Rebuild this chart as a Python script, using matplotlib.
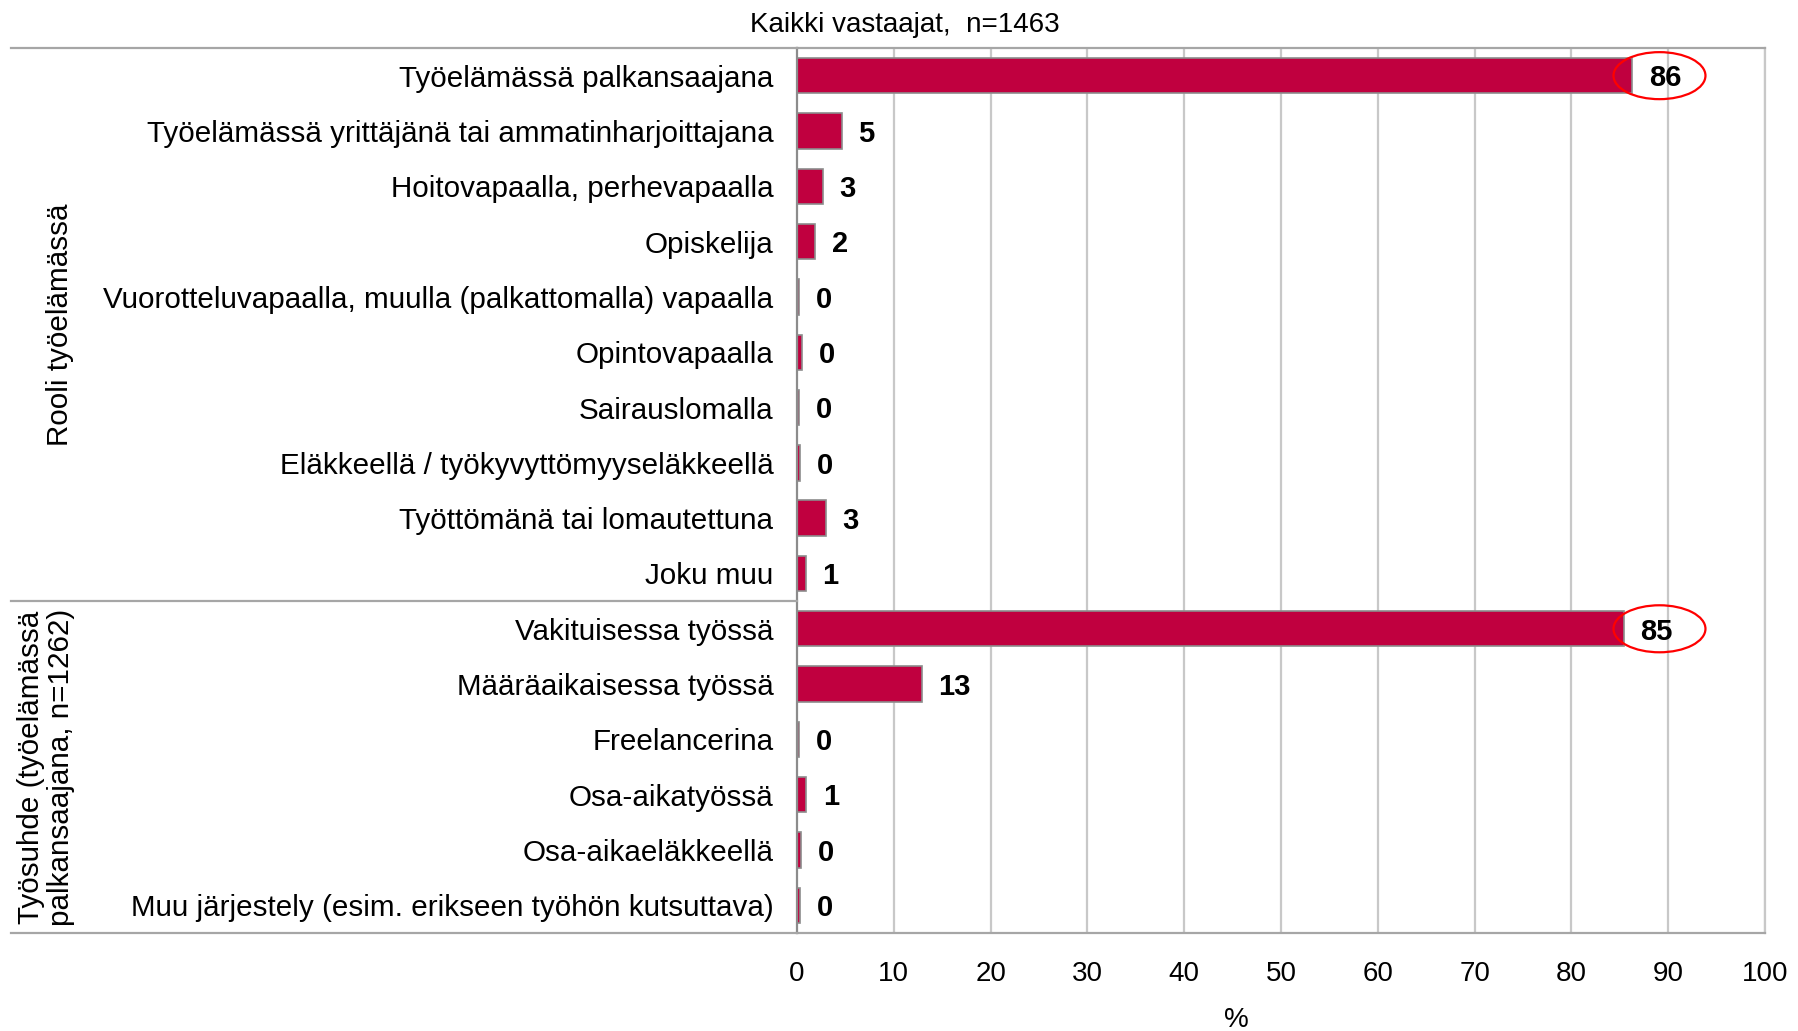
import numpy as np
import matplotlib
matplotlib.use("Agg")
import matplotlib.pyplot as plt
from matplotlib.patches import Ellipse
from matplotlib.lines import Line2D

plt.rcParams["font.family"] = ["Liberation Sans", "DejaVu Sans"]

# ── Data ──────────────────────────────────────────────────────────────────────
TITLE = "Kaikki vastaajat,  n=1463"
role_labels = [
    "Työelämässä palkansaajana",
    "Työelämässä yrittäjänä tai ammatinharjoittajana",
    "Hoitovapaalla, perhevapaalla",
    "Opiskelija",
    "Vuorotteluvapaalla, muulla (palkattomalla) vapaalla",
    "Opintovapaalla",
    "Sairauslomalla",
    "Eläkkeellä / työkyvyttömyyseläkkeellä",
    "Työttömänä tai lomautettuna",
    "Joku muu",
]
role_values = [86.3, 4.6, 2.65, 1.85, 0.2, 0.5, 0.2, 0.35, 3.0, 0.9]

job_labels = [
    "Vakituisessa työssä",
    "Määräaikaisessa työssä",
    "Freelancerina",
    "Osa-aikatyössä",
    "Osa-aikaeläkkeellä",
    "Muu järjestely (esim. erikseen työhön kutsuttava)",
]
job_values = [85.4, 12.9, 0.2, 0.93, 0.45, 0.35]

group_names = ["Rooli työelämässä", "Työsuhde (työelämässä\npalkansaajana, n=1262)"]
highlight = ["Työelämässä palkansaajana", "Vakituisessa työssä"]

labels = role_labels + job_labels
values = role_values + job_values

BAR_COLOR = "#C0003F"
EDGE = "#8c8c8c"
GRID = "#c8c8c8"
FRAME = "#a6a6a6"

# ── Figure ────────────────────────────────────────────────────────────────────
W, H = 1799, 1031
fig = plt.figure(figsize=(W / 100, H / 100), dpi=100)
x0, x1, ytop, ybot = 797, 1765, 48, 933
ax = fig.add_axes([x0 / W, 1 - ybot / H, (x1 - x0) / W, (ybot - ytop) / H])

y = np.arange(len(labels))
ax.barh(y, values, height=0.64, color=BAR_COLOR, edgecolor=EDGE, linewidth=1.2, zorder=3)

for yi, v in zip(y, values):
    ax.annotate(f"{v:.0f}", (v, yi), xytext=(12, -2), textcoords="offset points",
                ha="left", va="center", fontsize=21, fontweight="bold", zorder=5)

for name in highlight:
    yi = labels.index(name)
    ax.add_patch(Ellipse((89.1, yi), width=9.5, height=0.85, fill=False,
                         edgecolor="red", linewidth=1.6, zorder=6))

ax.set_xlim(0, 100)
ax.set_ylim(len(labels) - 0.5, -0.5)
ax.set_xticks(np.arange(0, 101, 10))
ax.set_yticks(y)
ax.set_yticklabels(labels, fontsize=21.3)
ax.tick_params(axis="y", length=0, pad=17)
ax.tick_params(axis="x", length=0, pad=20, labelsize=20)
for gx in range(10, 101, 10):
    ax.axvline(gx, color=GRID, lw=1.6, zorder=1)

for s in ["top", "right", "bottom"]:
    ax.spines[s].set_color(FRAME)
    ax.spines[s].set_linewidth(1.6)
ax.spines["right"].set_color(GRID)
ax.spines["left"].set_color(EDGE)
ax.spines["left"].set_linewidth(1.6)
ax.spines["left"].set_zorder(4)

# horizontal frame lines extended to the left over the category area
xl = 11 / W
for yy in [ytop, ybot, ytop + (ybot - ytop) * len(role_labels) / len(labels)]:
    fig.add_artist(Line2D([xl, x0 / W], [1 - yy / H, 1 - yy / H], color=FRAME, lw=1.6))

# group labels
n = len(labels)
bounds = [0, len(role_labels), n]
for i, g in enumerate(group_names):
    yc = ytop + (ybot - ytop) * (bounds[i] + bounds[i + 1]) / 2 / n
    xc = 60 if i == 0 else 46
    fig.text(xc / W, 1 - yc / H, g, rotation=90, ha="center", va="center",
             fontsize=21.3, linespacing=1.05)

fig.text(0.503, 1 - 25 / H, TITLE, ha="center", va="center", fontsize=20)
fig.text(1236 / W, 1 - 1020 / H, "%", ha="center", va="center", fontsize=20)

fig.savefig("out.png", dpi=100)
